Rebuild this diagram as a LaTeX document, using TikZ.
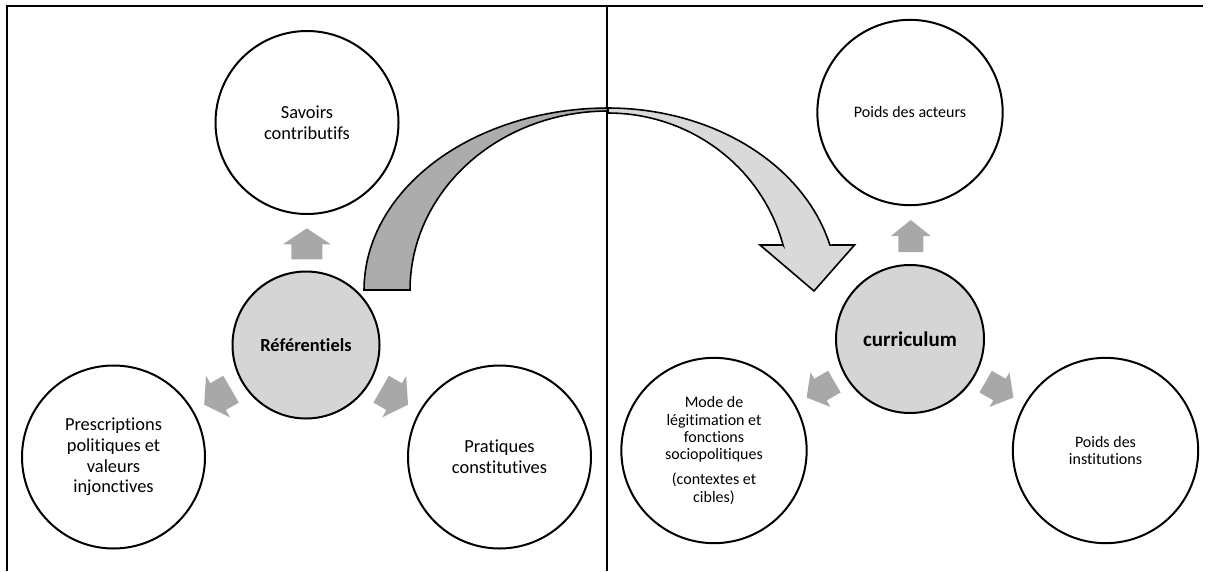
\documentclass[tikz,border=0pt]{standalone}
\usepackage{fontspec}
\setmainfont{Carlito}[Ligatures={NoCommon}]
\definecolor{darkband}{RGB}{172,172,172}
\definecolor{lightband}{RGB}{217,217,217}
\definecolor{centerfill}{RGB}{213,213,213}
\definecolor{arrowgray}{RGB}{168,168,168}
\tikzset{
  circ/.style={circle, draw=black, line width=1.5pt, fill=white, align=center, inner sep=0pt},
  lefttxt/.style={font=\fontsize{13.8}{15.5}\selectfont},
  righttxt/.style={font=\fontsize{12}{13.1}\selectfont},
  frameline/.style={line width=1.5pt},
  bandline/.style={draw=black, line width=1.2pt, line join=miter},
  uparrowL/.pic={\fill[arrowgray] (0,-15.5) -- (24,0.5) -- (15.5,0.5) -- (15.5,15.5) -- (-15.5,15.5) -- (-15.5,0.5) -- (-24,0.5) -- cycle;},
  uparrowR/.pic={\fill[arrowgray] (0,-16) -- (20,0) -- (12.5,0) -- (12.5,16) -- (-12.5,16) -- (-12.5,0) -- (-20,0) -- cycle;}
}
\begin{document}
\begin{tikzpicture}[x=0.75pt, y=-0.75pt]
\useasboundingbox (0,0) rectangle (1212,571);
% frame
\draw[frameline] (1203,6) -- (7,6) -- (7,571);
\draw[frameline] (607,6) -- (607,571);

% curved arrow: back (dark) part
\filldraw[fill=darkband, bandline] (364,290)
  -- plot[domain=180:270, samples=40] ({608+244*cos(\x)},{290+182*sin(\x)})
  -- (608,111)
  -- plot[domain=270:180, samples=40] ({608+198*cos(\x)},{290+179*sin(\x)})
  -- cycle;
% curved arrow: front (light) part
\filldraw[fill=lightband, bandline] (608,108)
  -- plot[domain=270:345.7, samples=40] ({608+229*cos(\x)},{290+182*sin(\x)})
  -- (854.5,245) -- (814,291) -- (760,245) -- (783,245)
  -- plot[domain=345.3:270, samples=40] ({608+181*cos(\x)},{290+177*sin(\x)})
  -- cycle;

% left cluster
\node[circ, minimum size=137.25pt, lefttxt] (sav) at (307,122.5) {Savoirs\\contributifs};
\node[circ, minimum size=137.25pt, lefttxt] (pres) at (113.5,457) {Prescriptions\\politiques et\\valeurs\\injonctives};
\node[circ, minimum size=137.25pt, lefttxt] (prat) at (499.5,457) {Pratiques\\constitutives};
\node[circ, fill=centerfill, minimum size=110.25pt, font=\fontsize{13.8}{16}\selectfont\bfseries] (ref) at (306,345) {Référentiels};
\path (306.8,243.8) pic{uparrowL};
\path (217.6,396.9) pic[rotate=120]{uparrowL};
\path (394.6,396.9) pic[rotate=-120]{uparrowL};

% right cluster
\node[circ, minimum size=139pt, righttxt] (act) at (910,112.5) {Poids des acteurs};
\node[circ, minimum size=139pt, righttxt] (mode) at (714,450.5) {Mode de\\légitimation et\\fonctions\\sociopolitiques\\[5.6pt](contextes et\\cibles)};
\node[circ, minimum size=139pt, righttxt] (inst) at (1105.5,450.5) {Poids des\\institutions};
\node[circ, fill=centerfill, minimum size=111pt, font=\fontsize{15.75}{18}\selectfont\bfseries] (cur) at (910,339) {curriculum};
\path (910.8,236) pic{uparrowR};
\path (820.5,389.6) pic[rotate=120]{uparrowR};
\path (999.5,389.6) pic[rotate=-120]{uparrowR};
\end{tikzpicture}
\end{document}
